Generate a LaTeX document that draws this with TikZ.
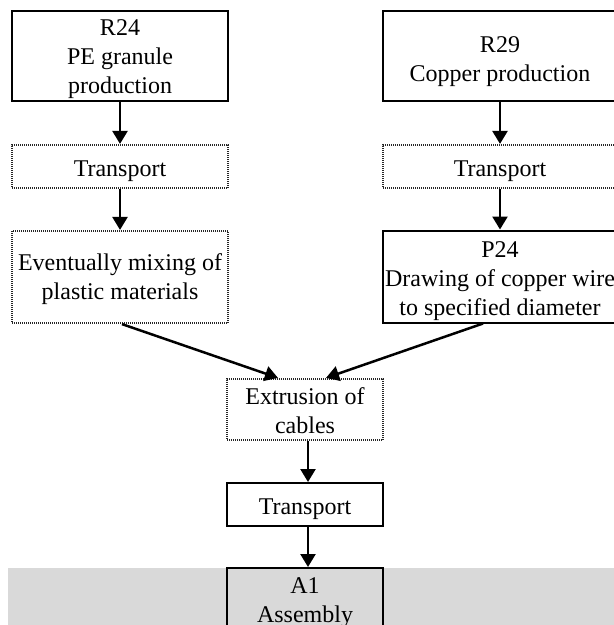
\documentclass[tikz,border=0pt]{standalone}
\usepackage{fontspec}
\setmainfont{Liberation Serif}
\usetikzlibrary{arrows.meta}
\definecolor{bandgray}{RGB}{217,217,217}
% centred lines of text, lowered by #1 pt inside their box without changing its size
\newcommand\lowtext[2]{\raisebox{-#1pt}[\height][\depth]{\begin{tabular}{@{}c@{}}#2\end{tabular}}}
\begin{document}
\begin{tikzpicture}[x=1pt,y=-1pt,
  every node/.style={font=\fontsize{24}{29}\selectfont, align=center, inner sep=0pt},
  solidbox/.style={draw=black, line width=2pt, fill=white},
  patbox/.style={draw=black!85, line width=2.2pt, dash pattern=on 1pt off 1pt, fill=white},
  leftcol/.style={minimum width=216pt},
  rightcol/.style={minimum width=234pt},
  midcol/.style={minimum width=156pt},
  flow/.style={line width=2.5pt, -{Triangle[width=15pt,length=13pt]}}]
\useasboundingbox (0,0) rectangle (614,625);
\clip (0,0) rectangle (614,625);

% shaded assembly band
\fill[bandgray] (8,568) rectangle (640,660);

% left branch: plastics
\node[solidbox, leftcol, minimum height=90pt] (r24) at (120,56) {\lowtext{3}{R24\\PE granule\\production}};
\node[patbox, leftcol, minimum height=43pt] (t1) at (120,166.5) {\lowtext{4}{Transport}};
\node[patbox, leftcol, minimum height=92pt] (mix) at (120,277) {\lowtext{2}{Eventually mixing of\\plastic materials}};

% right branch: copper
\node[solidbox, rightcol, minimum height=90pt] (r29) at (500,56) {\lowtext{5}{R29\\Copper production}};
\node[patbox, rightcol, minimum height=43pt] (t2) at (500,166.5) {\lowtext{4}{Transport}};
\node[solidbox, rightcol, minimum height=92pt] (p24) at (500,276.5) {\lowtext{4}{P24\\Drawing of copper wire\\to specified diameter}};

% merged line
\node[patbox, midcol, minimum height=61pt] (ext) at (305,409.5) {\lowtext{4}{Extrusion of\\cables}};
\node[solidbox, midcol, minimum height=43pt] (t3) at (305,504.5) {\lowtext{4}{Transport}};
\node[solidbox, midcol, minimum height=62pt, fill=bandgray] (a1) at (305,599) {\lowtext{3}{A1\\Assembly}};

% connectors
\draw[flow] (r24.south) -- (t1.north);
\draw[flow] (t1.south) -- (mix.north);
\draw[flow] (r29.south) -- (t2.north);
\draw[flow] (t2.south) -- (p24.north);
\draw[flow] ([xshift=2pt]mix.south) -- ([xshift=-27pt]ext.north);
\draw[flow] ([xshift=-17pt]p24.south) -- ([xshift=21pt]ext.north);
\draw[flow] ([xshift=3pt]ext.south) -- ([xshift=3pt]t3.north);
\draw[flow] ([xshift=3pt]t3.south) -- ([xshift=3pt]a1.north);
\end{tikzpicture}
\end{document}
